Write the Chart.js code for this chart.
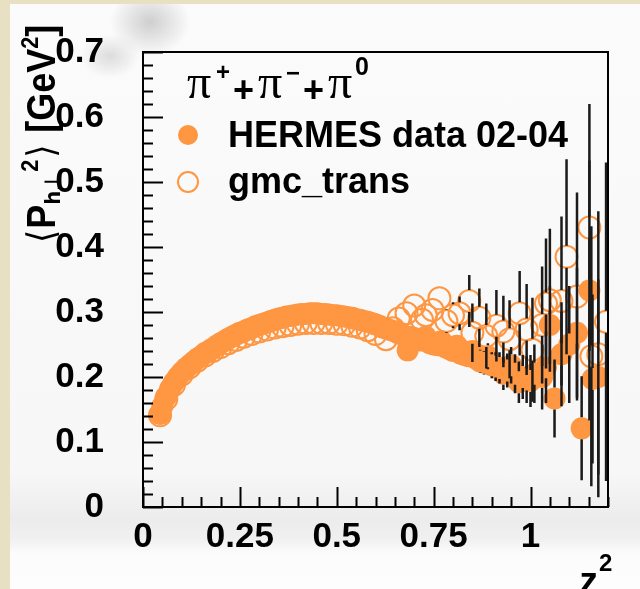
<!DOCTYPE html>
<html>
<head>
<meta charset="utf-8">
<script src="https://cdn.jsdelivr.net/npm/chart.js@4.4.0/dist/chart.umd.min.js"></script>
<style>
  body { margin: 0; width: 640px; height: 589px; background: #e7e0c3; overflow: hidden; }
  #panel {
    position: absolute; left: 10px; top: 4px; width: 630px; height: 585px;
    background:
      radial-gradient(ellipse 40px 34px at 140px 18px, rgba(140,140,140,0.40), rgba(140,140,140,0) 100%),
      radial-gradient(ellipse 30px 22px at 100px 52px, rgba(150,150,150,0.30), rgba(150,150,150,0) 100%),
      linear-gradient(#fbfbfb 0, #f7f7f7 470px, #ececec 515px, #f0f0f0 535px, #fcfcfc 550px, #fdfdfd 100%);
  }
  canvas { position: absolute; left: 0; top: 0; }
</style>
</head>
<body>
<div id="panel"></div>
<canvas id="myChart" width="640" height="589"></canvas>
<script>
// values

const hermesX = [0.044, 0.05, 0.06, 0.07, 0.08, 0.09, 0.10, 0.11, 0.12, 0.13,
  0.14, 0.15, 0.16, 0.17, 0.18, 0.19, 0.20, 0.21, 0.22, 0.23,
  0.24, 0.25, 0.26, 0.27, 0.28, 0.29, 0.30, 0.31, 0.32, 0.33,
  0.34, 0.35, 0.36, 0.37, 0.38, 0.39, 0.40, 0.41, 0.42, 0.43,
  0.44, 0.45, 0.46, 0.47, 0.48, 0.49, 0.50, 0.51, 0.52, 0.53,
  0.54, 0.55, 0.56, 0.57, 0.58, 0.59, 0.60, 0.61, 0.62, 0.63,
  0.64, 0.65, 0.66, 0.67, 0.683, 0.69, 0.70, 0.71, 0.72, 0.73,
  0.74, 0.75, 0.76, 0.77, 0.78, 0.79, 0.80, 0.81, 0.82, 0.83,
  0.84, 0.85, 0.86, 0.87, 0.88, 0.89, 0.90, 0.91, 0.92, 0.93,
  0.94, 0.95, 0.96, 0.97, 0.98, 0.99, 1.00, 1.01, 1.03, 1.04,
  1.05, 1.062, 1.08, 1.10, 1.12, 1.132, 1.152, 1.16, 1.175];
const hermesY = [0.143, 0.155, 0.170, 0.182, 0.192, 0.200, 0.207, 0.213, 0.218, 0.223,
  0.228, 0.232, 0.237, 0.240, 0.244, 0.248, 0.252, 0.255, 0.259, 0.262,
  0.265, 0.268, 0.270, 0.273, 0.275, 0.278, 0.280, 0.282, 0.284, 0.286,
  0.288, 0.290, 0.291, 0.293, 0.294, 0.295, 0.296, 0.297, 0.297, 0.298,
  0.298, 0.298, 0.297, 0.297, 0.296, 0.295, 0.295, 0.294, 0.293, 0.292,
  0.291, 0.289, 0.288, 0.286, 0.285, 0.283, 0.281, 0.279, 0.276, 0.274,
  0.272, 0.270, 0.267, 0.265, 0.241, 0.262, 0.260, 0.258, 0.256, 0.262,
  0.252, 0.250, 0.249, 0.255, 0.246, 0.243, 0.240, 0.248, 0.236, 0.234,
  0.232, 0.240, 0.228, 0.224, 0.222, 0.232, 0.218, 0.216, 0.214, 0.205,
  0.210, 0.218, 0.205, 0.192, 0.200, 0.196, 0.194, 0.205, 0.200, 0.215,
  0.280, 0.167, 0.235, 0.250, 0.268, 0.121, 0.333, 0.197, 0.200];
const hermesErr = [0, 0, 0, 0, 0, 0, 0, 0, 0, 0,
  0, 0, 0, 0, 0, 0, 0, 0, 0, 0,
  0, 0, 0, 0, 0, 0, 0, 0, 0, 0,
  0, 0, 0, 0, 0, 0, 0, 0, 0, 0,
  0, 0, 0, 0, 0, 0, 0, 0, 0, 0,
  0, 0, 0, 0, 0, 0, 0, 0, 0, 0,
  0, 0, 0, 0, 0.01, 0, 0, 0, 0, 0,
  0, 0, 0.01, 0.01, 0.01, 0.01, 0.012, 0.012, 0.014, 0.014,
  0.015, 0.016, 0.016, 0.018, 0.018, 0.02, 0.02, 0.022, 0.024, 0.025,
  0.026, 0.028, 0.03, 0.032, 0.034, 0.036, 0.04, 0.045, 0.05, 0.055,
  0.06, 0.06, 0.08, 0.09, 0.1, 0.08, 0.2, 0.13, 0.15];

const gmcX = [0.044, 0.06, 0.08, 0.10, 0.12, 0.14, 0.16, 0.18, 0.20, 0.22,
  0.24, 0.26, 0.28, 0.30, 0.32, 0.34, 0.36, 0.38, 0.40, 0.42,
  0.44, 0.46, 0.48, 0.50, 0.52, 0.54, 0.56, 0.58, 0.60, 0.627,
  0.645, 0.66, 0.68, 0.70, 0.72, 0.73, 0.747, 0.765, 0.783, 0.80,
  0.817, 0.842, 0.85, 0.868, 0.886, 0.912, 0.93, 0.946, 0.972, 0.99,
  1.005, 1.03, 1.04, 1.05, 1.08, 1.093, 1.12, 1.152, 1.157, 1.175, 1.195];
const gmcY = [0.141, 0.166, 0.188, 0.204, 0.215, 0.225, 0.233, 0.240, 0.246, 0.252,
  0.257, 0.262, 0.266, 0.270, 0.273, 0.276, 0.278, 0.280, 0.282, 0.283,
  0.283, 0.283, 0.283, 0.282, 0.281, 0.279, 0.276, 0.272, 0.266, 0.258,
  0.275, 0.290, 0.298, 0.310, 0.288, 0.295, 0.303, 0.321, 0.286, 0.295,
  0.298, 0.317, 0.268, 0.291, 0.263, 0.279, 0.270, 0.258, 0.298, 0.273,
  0.242, 0.280, 0.313, 0.318, 0.317, 0.385, 0.324, 0.430, 0.232, 0.235, 0.285];
const gmcErr = [0, 0, 0, 0, 0, 0, 0, 0, 0, 0,
  0, 0, 0, 0, 0, 0, 0, 0, 0, 0,
  0, 0, 0, 0, 0, 0, 0, 0, 0, 0.008,
  0.008, 0.01, 0.01, 0.012, 0.012, 0.014, 0.015, 0.016, 0.018, 0.02,
  0.026, 0.04, 0.045, 0.045, 0.05, 0.055, 0.055, 0.06, 0.065, 0.07,
  0.08, 0.09, 0.1, 0.11, 0.13, 0.15, 0.16, 0.19, 0.2, 0.22, 0.245];

const xTickValues = [0, 0.25, 0.5, 0.75, 1];
const xTickLabels = ["0", "0.25", "0.5", "0.75", "1"];
const yTickValues = [0, 0.1, 0.2, 0.3, 0.4, 0.5, 0.6, 0.7];
const yTickLabels = ["0", "0.1", "0.2", "0.3", "0.4", "0.5", "0.6", "0.7"];

//

const orange = "rgb(254,150,66)";
const sans = "'Liberation Sans', Arial, sans-serif";

const toPoints = (xs, ys) => xs.map((x, i) => ({ x: x, y: ys[i] }));

const labelFor = (values, labels) => (v) => {
  const i = values.findIndex((t) => Math.abs(t - v) < 1e-6);
  return i >= 0 ? labels[i] : "";
};

// error bars, with a gap round the own marker like ROOT
const errorBars = {
  id: "errorBars",
  afterDatasetsDraw(chart) {
    const ctx = chart.ctx, xs = chart.scales.x, ys = chart.scales.y;
    const sets = [[hermesX, hermesY, hermesErr], [gmcX, gmcY, gmcErr]];
    ctx.save();
    ctx.beginPath();
    ctx.rect(chart.chartArea.left, chart.chartArea.top, chart.chartArea.width, chart.chartArea.height);
    ctx.clip();
    ctx.strokeStyle = "#1b1b1b";
    ctx.lineWidth = 2.5;
    const gap = 11;
    sets.forEach(([X, Y, E]) => {
      for (let i = 0; i < X.length; i++) {
        if (!E[i]) continue;
        const px = xs.getPixelForValue(X[i]);
        const py = ys.getPixelForValue(Y[i]);
        const top = ys.getPixelForValue(Y[i] + E[i]);
        const bot = ys.getPixelForValue(Y[i] - E[i]);
        ctx.beginPath();
        if (top < py - gap) { ctx.moveTo(px, top); ctx.lineTo(px, py - gap); }
        if (bot > py + gap) { ctx.moveTo(px, py + gap); ctx.lineTo(px, bot); }
        ctx.stroke();
      }
    });
    ctx.restore();
  },
};

// frame, inner ticks, legend and axis titles
const decorations = {
  id: "decorations",
  afterDraw(chart) {
    const ctx = chart.ctx, xs = chart.scales.x, ys = chart.scales.y;
    const a = chart.chartArea;
    ctx.save();
    ctx.strokeStyle = "#000";
    ctx.lineWidth = 2;
    ctx.strokeRect(a.left, a.top, a.right - a.left, a.bottom - a.top);

    ctx.beginPath();
    for (let v = 0; v <= 1.2001; v += 0.05) {
      const px = Math.round(xs.getPixelForValue(v)) + 0.5;
      const major = Math.abs(v / 0.25 - Math.round(v / 0.25)) < 1e-6;
      ctx.moveTo(px, a.bottom);
      ctx.lineTo(px, a.bottom - (major ? 20 : 10));
    }
    for (let v = 0; v <= 0.7001; v += 0.02) {
      const py = Math.round(ys.getPixelForValue(v)) + 0.5;
      const major = Math.abs(v / 0.1 - Math.round(v / 0.1)) < 1e-6;
      ctx.moveTo(a.left, py);
      ctx.lineTo(a.left + (major ? 20 : 10), py);
    }
    ctx.stroke();

    ctx.fillStyle = "#000";
    ctx.textBaseline = "alphabetic";

    // pi+ + pi- + pi0
    const piFont = "48px 'Liberation Serif', 'Times New Roman', serif";
    const plusFont = "bold 36px " + sans;
    const supFont = "bold 24px " + sans;
    const put = (text, font, x, y) => { ctx.font = font; ctx.fillText(text, x, y); };
    put("\u03c0", piFont, 187, 98);
    put("+", supFont, 216, 80);
    put("+", plusFont, 233, 102);
    put("\u03c0", piFont, 258, 98);
    put("\u2212", supFont, 286, 81);
    put("+", plusFont, 303, 102);
    put("\u03c0", piFont, 328, 98);
    put("0", "bold 25px " + sans, 355, 75);

    // legend entries
    ctx.fillStyle = orange;
    ctx.beginPath();
    ctx.arc(188, 135, 10, 0, Math.PI * 2);
    ctx.fill();
    ctx.strokeStyle = orange;
    ctx.lineWidth = 2;
    ctx.beginPath();
    ctx.arc(188, 182, 10, 0, Math.PI * 2);
    ctx.stroke();
    ctx.fillStyle = "#000";
    ctx.font = "bold 36px " + sans;
    ctx.fillText("HERMES data 02-04", 228, 147);
    ctx.fillText("gmc_trans", 228, 193);

    // x title
    ctx.font = "bold 37px " + sans;
    ctx.textAlign = "right";
    ctx.fillText("z", 598, 593);
    ctx.font = supFont;
    ctx.textAlign = "left";
    ctx.fillText("2", 599, 571);

    // y title, rotated, glyphs a bit stretched like the original
    ctx.translate(55, 243);
    ctx.rotate(-Math.PI / 2);
    ctx.scale(0.9, 1);
    let x = 0;
    const yt = (text, font, dy, extra) => {
      ctx.font = font;
      ctx.fillText(text, x, dy);
      x += ctx.measureText(text).width + (extra || 0);
    };
    const tFont = "bold 40px " + sans;
    const tSmall = "bold 24px " + sans;
    const bracket = "38px 'DejaVu Sans', sans-serif";
    yt("\u27e8", bracket, -1, 1);
    yt("P", tFont, 0);
    yt("h\u22a5", "bold 22px 'DejaVu Sans', sans-serif", 5, 1);
    yt("2", tSmall, -17, 2);
    yt("\u27e9", bracket, -1, 2);
    yt(" [GeV", tFont, 0);
    yt("2", tSmall, -17);
    yt("]", tFont, 0);
    ctx.restore();
  },
};

const config = {
  type: "scatter",
  data: {
    datasets: [
      {
        label: "HERMES data 02-04",
        data: toPoints(hermesX, hermesY),
        pointStyle: "circle",
        pointRadius: 11,
        pointBackgroundColor: orange,
        pointBorderWidth: 0,
        pointBorderColor: orange,
      },
      {
        label: "gmc_trans",
        data: toPoints(gmcX, gmcY),
        pointStyle: "circle",
        pointRadius: 11,
        pointBackgroundColor: "rgba(0,0,0,0)",
        pointBorderColor: orange,
        pointBorderWidth: 2,
      },
    ],
  },
  options: {
    responsive: false,
    animation: false,
    devicePixelRatio: 1,
    events: [],
    layout: { padding: { top: 42, right: 32, left: 0, bottom: 0 } },
    plugins: { legend: { display: false }, tooltip: { enabled: false } },
    scales: {
      x: {
        type: "linear",
        min: 0,
        max: 1.2,
        afterFit: (s) => { s.height = 82; },
        afterBuildTicks: (s) => { s.ticks = xTickValues.map((v) => ({ value: v })); },
        grid: { display: false },
        border: { display: false },
        ticks: {
          callback: labelFor(xTickValues, xTickLabels),
          font: { family: sans, weight: "bold", size: 35 },
          color: "#000",
          padding: 1,
          maxRotation: 0,
          autoSkip: false,
        },
      },
      y: {
        type: "linear",
        min: 0,
        max: 0.7,
        afterFit: (s) => { s.width = 143; },
        afterBuildTicks: (s) => { s.ticks = yTickValues.map((v) => ({ value: v })); },
        grid: { display: false },
        border: { display: false },
        ticks: {
          callback: labelFor(yTickValues, yTickLabels),
          font: { family: sans, weight: "bold", size: 35 },
          color: "#000",
          padding: 31,
          autoSkip: false,
        },
      },
    },
  },
  plugins: [errorBars, decorations],
};

const myChart = new Chart(document.getElementById("myChart"), config);
</script>
</body>
</html>
